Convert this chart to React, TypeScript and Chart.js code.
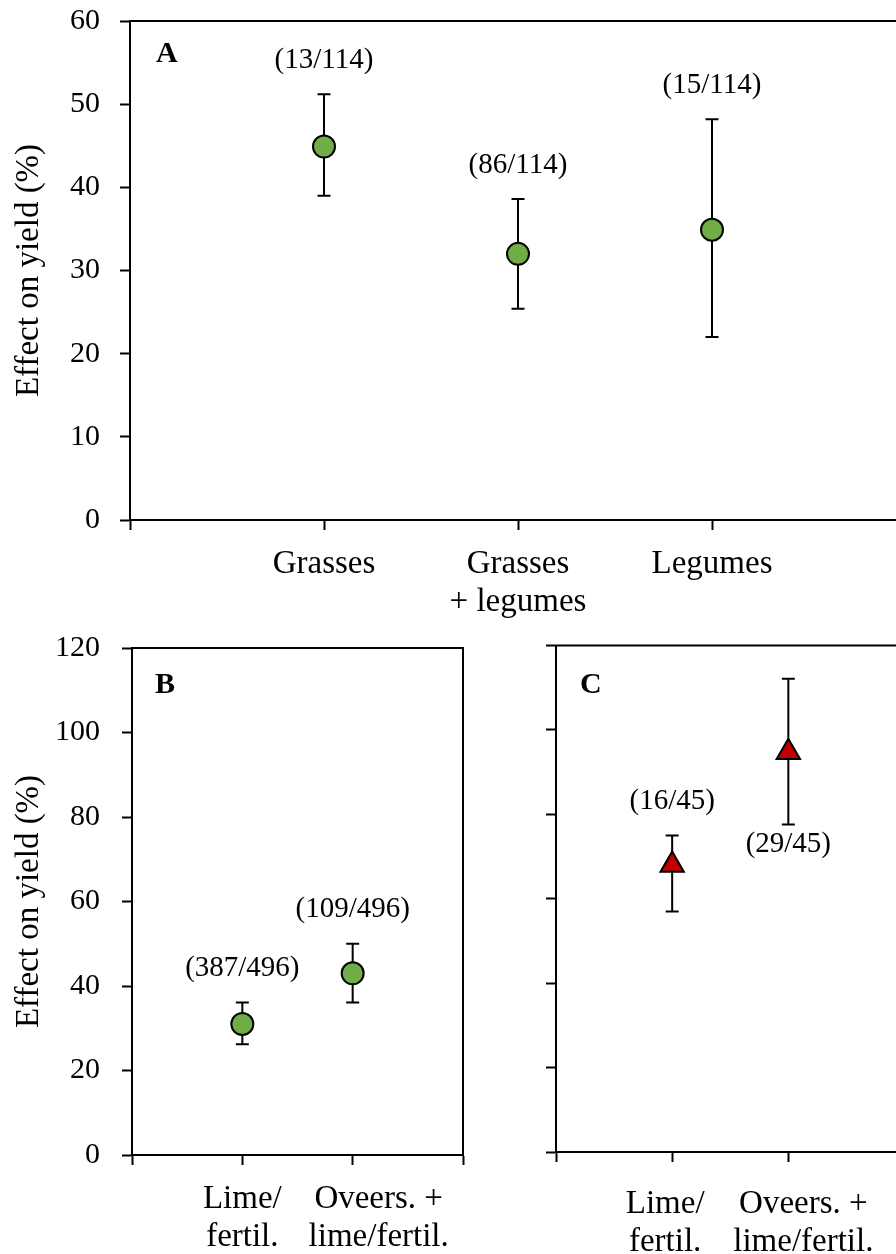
import React, { useEffect, useRef } from "react";
import { Chart, registerables } from "chart.js";

Chart.register(...registerables);

const FONT = "'Liberation Serif', 'Times New Roman', serif";

// ---- Panel A data ----
const categoriesA = [["Grasses"], ["Grasses", "+ legumes"], ["Legumes"]];
const meanA = [44.9, 32.0, 34.9];
const lowerA = [39.0, 25.4, 22.0];
const upperA = [51.2, 38.6, 48.2];
const countsA = ["(13/114)", "(86/114)", "(15/114)"];
const countSideA = ["above", "above", "above"];
const yTicksA = [0, 10, 20, 30, 40, 50, 60];

// ---- Panels B & C data ----
const categoriesBC = [["Lime/", "fertil."], ["Oveers. +", "lime/fertil."]];
const meanB = [31.0, 43.0];
const lowerB = [26.2, 36.1];
const upperB = [36.1, 50.0];
const countsB = ["(387/496)", "(109/496)"];
const countSideB = ["above", "above"];

const meanC = [68.0, 94.7];
const lowerC = [57.0, 77.6];
const upperC = [75.0, 112.1];
const countsC = ["(16/45)", "(29/45)"];
const countSideC = ["above", "below"];
const yTicksBC = [0, 20, 40, 60, 80, 100, 120];

type Panel = {
  cats: string[][];
  mean: number[];
  lower: number[];
  upper: number[];
  counts: string[];
  countSide: string[];
  yTicks: number[];
  letter: string;
  fill: string;
  pointStyle: string;
  radius: number;
  showYLabels: boolean;
  showTitle: boolean;
  yWidth: number;
  xHeight: number;
  padTop: number;
  padRight: number;
  yTickPad: number;
  xTickPad: number;
  labelShift: number[];
  letterPos: [number, number];
  left: number;
  top: number;
  w: number;
  h: number;
};

const panels: Panel[] = [
  {
    cats: categoriesA, mean: meanA, lower: lowerA, upper: upperA,
    counts: countsA, countSide: countSideA, yTicks: yTicksA,
    letter: "A", fill: "#70AD47", pointStyle: "circle", radius: 11,
    showYLabels: true, showTitle: true,
    yWidth: 130, xHeight: 120, padTop: 21, padRight: 14,
    yTickPad: 20, xTickPad: 15, labelShift: [0, 0, 0], letterPos: [26, 41],
    left: 0, top: 0, w: 920, h: 640,
  },
  {
    cats: categoriesBC, mean: meanB, lower: lowerB, upper: upperB,
    counts: countsB, countSide: countSideB, yTicks: yTicksBC,
    letter: "B", fill: "#70AD47", pointStyle: "circle", radius: 11,
    showYLabels: true, showTitle: true,
    yWidth: 132, xHeight: 99, padTop: 18, padRight: 17,
    yTickPad: 22, xTickPad: 15, labelShift: [0, 26], letterPos: [23, 45],
    left: 0, top: 630, w: 480, h: 624,
  },
  {
    cats: categoriesBC, mean: meanC, lower: lowerC, upper: upperC,
    counts: countsC, countSide: countSideC, yTicks: yTicksBC,
    letter: "C", fill: "#C00000", pointStyle: "triangle", radius: 13.5,
    showYLabels: false, showTitle: false,
    yWidth: 76, xHeight: 102, padTop: 15, padRight: 14,
    yTickPad: 20, xTickPad: 23, labelShift: [-7, 15], letterPos: [24, 47],
    left: 480, top: 630, w: 440, h: 624,
  },
];

function buildConfig(p: Panel): any {
  const n = p.cats.length;
  const xTicks = Array.from({ length: n + 2 }, (_, i) => i);

  const errorBars = {
    id: "errorBars",
    beforeDatasetsDraw(chart: any) {
      const { ctx, scales } = chart;
      const x = scales.x, y = scales.y;
      ctx.save();
      ctx.strokeStyle = "#000";
      ctx.lineWidth = 2;
      p.mean.forEach((_m, i) => {
        const px = x.getPixelForValue(i + 1);
        const yl = y.getPixelForValue(p.lower[i]);
        const yu = y.getPixelForValue(p.upper[i]);
        ctx.beginPath();
        ctx.moveTo(px, yl);
        ctx.lineTo(px, yu);
        ctx.moveTo(px - 6.5, yl);
        ctx.lineTo(px + 6.5, yl);
        ctx.moveTo(px - 6.5, yu);
        ctx.lineTo(px + 6.5, yu);
        ctx.stroke();
      });
      ctx.restore();
    },
    afterDatasetsDraw(chart: any) {
      const { ctx, scales } = chart;
      const x = scales.x, y = scales.y;
      ctx.save();
      ctx.fillStyle = "#000";
      ctx.font = `29px ${FONT}`;
      ctx.textAlign = "center";
      ctx.textBaseline = "middle";
      p.counts.forEach((t, i) => {
        const px = x.getPixelForValue(i + 1);
        const py =
          p.countSide[i] === "above"
            ? y.getPixelForValue(p.upper[i]) - 34
            : y.getPixelForValue(p.lower[i]) + 20;
        ctx.fillText(t, px, py);
      });
      ctx.restore();
    },
    beforeDraw(chart: any) {
      const xs = chart.scales.x;
      const items = xs.getLabelItems(chart.chartArea);
      items.forEach((it: any) => {
        const key = JSON.stringify(it.label);
        const idx = p.cats.findIndex((c) => JSON.stringify(c) === key);
        if (idx >= 0 && p.labelShift[idx]) {
          it.options.translation[0] += p.labelShift[idx];
        }
      });
    },
    afterDraw(chart: any) {
      const { ctx, chartArea: a } = chart;
      ctx.save();
      ctx.strokeStyle = "#000";
      ctx.lineWidth = 2;
      ctx.strokeRect(a.left, a.top, a.right - a.left, a.bottom - a.top);
      ctx.fillStyle = "#000";
      ctx.font = `bold 30px ${FONT}`;
      ctx.textAlign = "left";
      ctx.textBaseline = "alphabetic";
      ctx.fillText(p.letter, a.left + p.letterPos[0], a.top + p.letterPos[1]);
      ctx.restore();
    },
  };

  return {
    type: "scatter",
    data: {
      datasets: [
        {
          data: p.mean.map((v, i) => ({ x: i + 1, y: v })),
          pointStyle: p.pointStyle,
          pointRadius: p.radius,
          pointHoverRadius: p.radius,
          pointBackgroundColor: p.fill,
          pointBorderColor: "#000",
          pointBorderWidth: 2,
          showLine: false,
        },
      ],
    },
    options: {
      animation: false,
      responsive: false,
      maintainAspectRatio: false,
      devicePixelRatio: 1,
      layout: { padding: { top: p.padTop, right: p.padRight, left: 0, bottom: 0 } },
      plugins: { legend: { display: false }, tooltip: { enabled: false } },
      events: [],
      scales: {
        x: {
          type: "linear",
          min: 0,
          max: n + 1,
          afterBuildTicks: (s: any) => {
            s.ticks = xTicks.map((value) => ({ value }));
          },
          afterFit: (s: any) => {
            s.height = p.xHeight;
            s.paddingLeft = 0;
            s.paddingRight = 0;
          },
          ticks: {
            autoSkip: false,
            maxRotation: 0,
            minRotation: 0,
            padding: p.xTickPad,
            color: "#000",
            font: { family: FONT, size: 33, lineHeight: 1.15 },
            callback: (v: number) => p.cats[v - 1] ?? "",
          },
          grid: {
            drawOnChartArea: false,
            drawTicks: true,
            tickLength: 10,
            tickWidth: 2,
            tickColor: "#000",
          },
          border: { display: true, color: "#000", width: 2 },
        },
        y: {
          type: "linear",
          min: p.yTicks[0],
          max: p.yTicks[p.yTicks.length - 1],
          afterBuildTicks: (s: any) => {
            s.ticks = p.yTicks.map((value) => ({ value }));
          },
          afterFit: (s: any) => {
            s.width = p.yWidth;
            s.paddingTop = 0;
            s.paddingBottom = 0;
          },
          ticks: {
            display: p.showYLabels,
            padding: p.yTickPad,
            color: "#000",
            font: { family: FONT, size: 30 },
            callback: (v: number) => String(v),
          },
          title: {
            display: p.showTitle,
            text: "Effect on yield (%)",
            color: "#000",
            font: { family: FONT, size: 33, lineHeight: 1.2 },
            padding: { top: 10, bottom: 0 },
          },
          grid: {
            drawOnChartArea: false,
            drawTicks: true,
            tickLength: 10,
            tickWidth: 2,
            tickColor: "#000",
          },
          border: { display: true, color: "#000", width: 2 },
        },
      },
    },
    plugins: [errorBars],
  };
}

function PanelChart({ p }: { p: Panel }) {
  const ref = useRef<HTMLCanvasElement | null>(null);
  useEffect(() => {
    if (!ref.current) return;
    const chart = new Chart(ref.current, buildConfig(p));
    return () => chart.destroy();
  }, [p]);
  return (
    <canvas
      ref={ref}
      width={p.w}
      height={p.h}
      style={{ position: "absolute", left: p.left, top: p.top, width: p.w, height: p.h }}
    />
  );
}

export default function App() {
  return (
    <div
      style={{
        position: "absolute",
        left: 0,
        top: 0,
        width: 896,
        height: 1254,
        overflow: "hidden",
        background: "#fff",
      }}
    >
      {panels.map((p) => (
        <PanelChart key={p.letter} p={p} />
      ))}
    </div>
  );
}
